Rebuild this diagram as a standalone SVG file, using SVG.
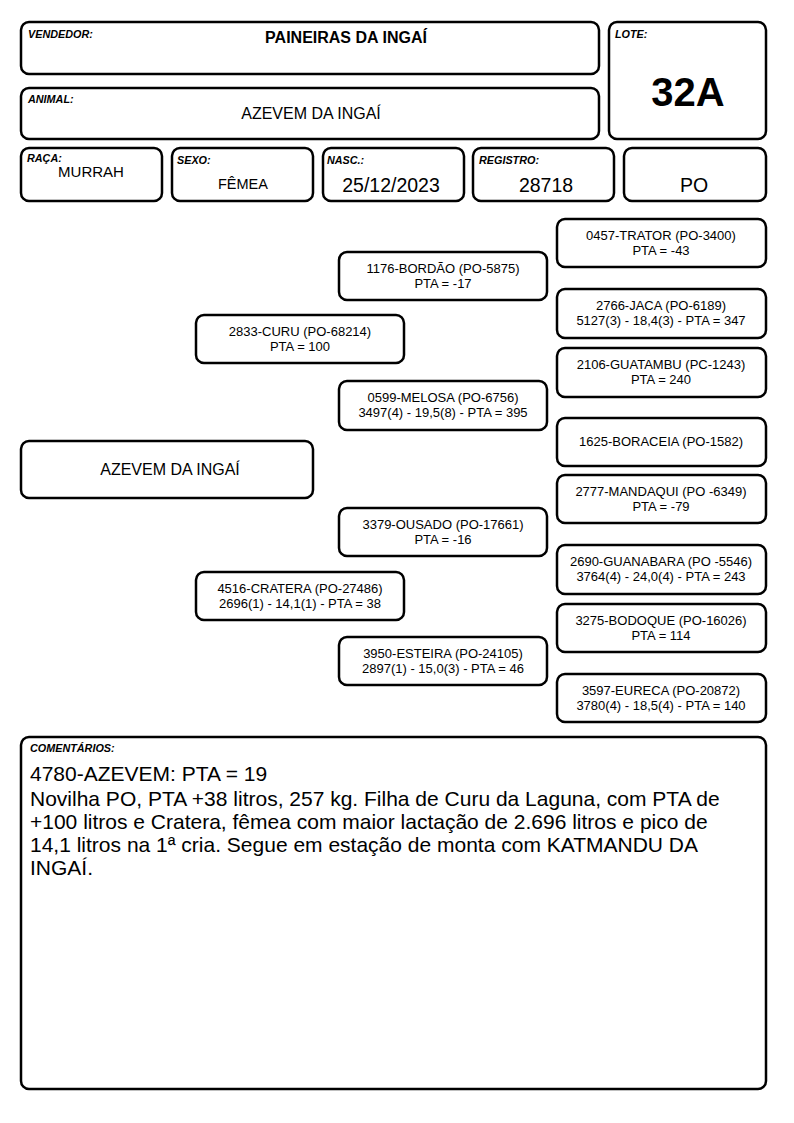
<svg xmlns="http://www.w3.org/2000/svg" width="794" height="1123" viewBox="0 0 794 1123">
<style>
rect.b{fill:#fff;stroke:#000;stroke-width:2.5}
text{font-family:"Liberation Sans",Arial,sans-serif;fill:#000}
.lbl{font-size:10.8px;font-weight:bold;font-style:italic}
.val{font-size:16px;text-anchor:middle}
.p{font-size:13px;text-anchor:middle}
.c{font-size:21px}
</style>
<rect width="794" height="1123" fill="#fff"/>
<g id="vendedor"><rect class="b" x="21" y="22" width="578" height="52" rx="8"/><text class="lbl" x="28" y="38">VENDEDOR:</text><text x="346" y="43" style="font-size:16px;font-weight:bold;text-anchor:middle">PAINEIRAS DA INGAÍ</text></g>
<g id="lote"><rect class="b" x="609" y="22" width="157" height="117" rx="8"/><text class="lbl" x="615" y="38">LOTE:</text><text x="688" y="106" style="font-size:40px;font-weight:bold;text-anchor:middle">32A</text></g>
<g id="animal"><rect class="b" x="21" y="88" width="578" height="51" rx="8"/><text class="lbl" x="28" y="103">ANIMAL:</text><text class="val" x="311" y="119">AZEVEM DA INGAÍ</text></g>
<g id="raca"><rect class="b" x="21" y="148" width="141" height="53" rx="8"/><text class="lbl" x="27" y="162">RAÇA:</text><text class="val" x="91" y="177" style="font-size:15px">MURRAH</text></g>
<g id="sexo"><rect class="b" x="172" y="148" width="141" height="53" rx="8"/><text class="lbl" x="177" y="164">SEXO:</text><text class="val" x="243" y="189" style="font-size:14.5px">FÊMEA</text></g>
<g id="nasc"><rect class="b" x="323" y="148" width="141" height="53" rx="8"/><text class="lbl" x="327" y="164">NASC.:</text><text class="val" x="391" y="192" style="font-size:19.5px">25/12/2023</text></g>
<g id="registro"><rect class="b" x="473" y="148" width="141" height="53" rx="8"/><text class="lbl" x="479" y="164">REGISTRO:</text><text class="val" x="546" y="192" style="font-size:19.5px">28718</text></g>
<g id="categoria"><rect class="b" x="624" y="148" width="142" height="53" rx="8"/><text class="val" x="694" y="192" style="font-size:19.5px">PO</text></g>

<g id="azevem"><rect class="b" x="21" y="441" width="292" height="57" rx="8"/><text class="val" x="170" y="475">AZEVEM DA INGAÍ</text></g>
<g id="curu"><rect class="b" x="196" y="315" width="208" height="48" rx="8"/><text class="p" x="300" y="336">2833-CURU (PO-68214)</text><text class="p" x="300" y="351">PTA = 100</text></g>
<g id="cratera"><rect class="b" x="196" y="572" width="208" height="48" rx="8"/><text class="p" x="300" y="593">4516-CRATERA (PO-27486)</text><text class="p" x="300" y="608">2696(1) - 14,1(1) - PTA = 38</text></g>
<g id="bordao"><rect class="b" x="339" y="252" width="208" height="48" rx="8"/><text class="p" x="443" y="273">1176-BORDÃO (PO-5875)</text><text class="p" x="443" y="288">PTA = -17</text></g>
<g id="melosa"><rect class="b" x="339" y="381" width="208" height="49" rx="8"/><text class="p" x="443" y="402">0599-MELOSA (PO-6756)</text><text class="p" x="443" y="417">3497(4) - 19,5(8) - PTA = 395</text></g>
<g id="ousado"><rect class="b" x="339" y="508" width="208" height="48" rx="8"/><text class="p" x="443" y="529">3379-OUSADO (PO-17661)</text><text class="p" x="443" y="544">PTA = -16</text></g>
<g id="esteira"><rect class="b" x="339" y="637" width="208" height="48" rx="8"/><text class="p" x="443" y="658">3950-ESTEIRA (PO-24105)</text><text class="p" x="443" y="673">2897(1) - 15,0(3) - PTA = 46</text></g>
<g id="trator"><rect class="b" x="557" y="219" width="209" height="48" rx="8"/><text class="p" x="661" y="240">0457-TRATOR (PO-3400)</text><text class="p" x="661" y="255">PTA = -43</text></g>
<g id="jaca"><rect class="b" x="557" y="289" width="209" height="49" rx="8"/><text class="p" x="661" y="310">2766-JACA (PO-6189)</text><text class="p" x="661" y="325">5127(3) - 18,4(3) - PTA = 347</text></g>
<g id="guatambu"><rect class="b" x="557" y="348" width="209" height="49" rx="8"/><text class="p" x="661" y="369">2106-GUATAMBU (PC-1243)</text><text class="p" x="661" y="384">PTA = 240</text></g>
<g id="boraceia"><rect class="b" x="557" y="418" width="209" height="48" rx="8"/><text class="p" x="661" y="446">1625-BORACEIA (PO-1582)</text></g>
<g id="mandaqui"><rect class="b" x="557" y="475" width="209" height="48" rx="8"/><text class="p" x="661" y="496">2777-MANDAQUI (PO -6349)</text><text class="p" x="661" y="511">PTA = -79</text></g>
<g id="guanabara"><rect class="b" x="557" y="545" width="209" height="49" rx="8"/><text class="p" x="661" y="566">2690-GUANABARA (PO -5546)</text><text class="p" x="661" y="581">3764(4) - 24,0(4) - PTA = 243</text></g>
<g id="bodoque"><rect class="b" x="557" y="604" width="209" height="48" rx="8"/><text class="p" x="661" y="625">3275-BODOQUE (PO-16026)</text><text class="p" x="661" y="640">PTA = 114</text></g>
<g id="eureca"><rect class="b" x="557" y="674" width="209" height="48" rx="8"/><text class="p" x="661" y="695">3597-EURECA (PO-20872)</text><text class="p" x="661" y="710">3780(4) - 18,5(4) - PTA = 140</text></g>
<g id="connectors"></g>

<g id="comentarios"><rect class="b" x="21" y="737" width="745" height="352" rx="8"/><text class="lbl" x="30" y="752">COMENTÁRIOS:</text>
<text class="c" x="30" y="781">4780-AZEVEM: PTA = 19</text>
<text class="c" x="30" y="806">Novilha PO, PTA +38 litros, 257 kg. Filha de Curu da Laguna, com PTA de</text>
<text class="c" x="30" y="829">+100 litros e Cratera, fêmea com maior lactação de 2.696 litros e pico de</text>
<text class="c" x="30" y="852">14,1 litros na 1ª cria. Segue em estação de monta com KATMANDU DA</text>
<text class="c" x="30" y="875">INGAÍ.</text></g>
</svg>
